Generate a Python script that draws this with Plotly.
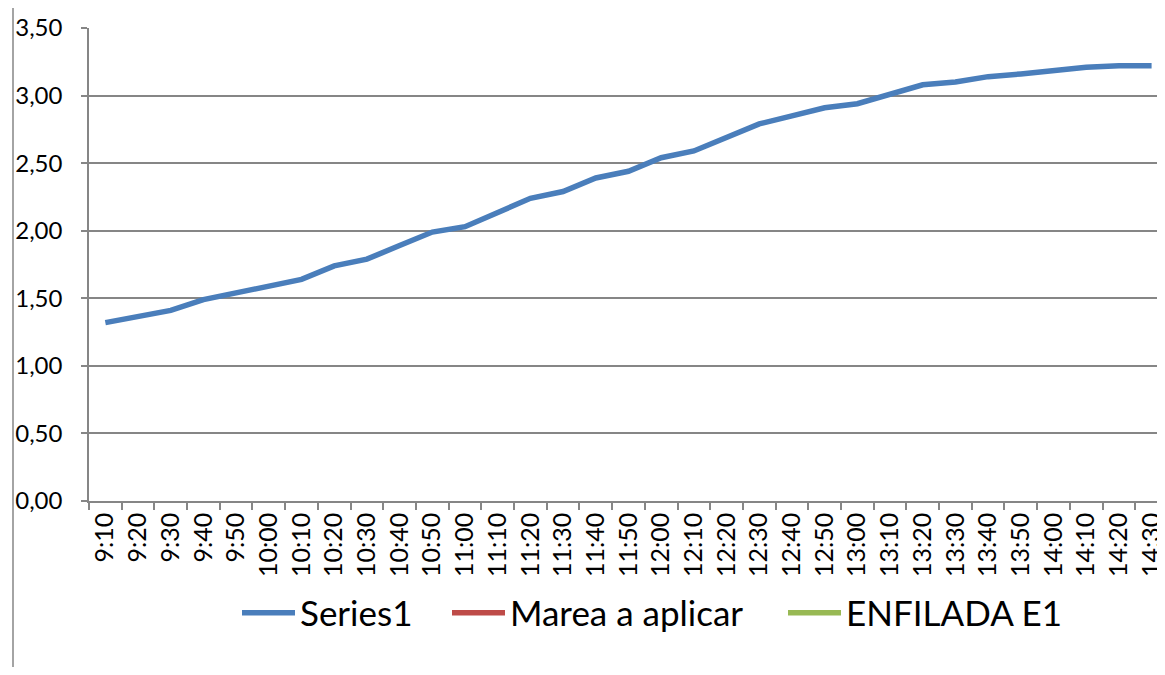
import plotly.graph_objects as go

times = ["9:10", "9:20", "9:30", "9:40", "9:50", "10:00", "10:10", "10:20", "10:30", "10:40",
         "10:50", "11:00", "11:10", "11:20", "11:30", "11:40", "11:50", "12:00", "12:10", "12:20",
         "12:30", "12:40", "12:50", "13:00", "13:10", "13:20", "13:30", "13:40", "13:50", "14:00",
         "14:10", "14:20", "14:30"]
series1 = [1.32, 1.37, 1.41, 1.49, 1.54, 1.59, 1.64, 1.74, 1.79, 1.89,
           1.99, 2.03, 2.14, 2.24, 2.29, 2.39, 2.44, 2.54, 2.59, 2.69,
           2.79, 2.85, 2.91, 2.94, 3.01, 3.08, 3.10, 3.14, 3.16, 3.19,
           3.21, 3.22, 3.22]
marea = [None] * len(times)
enfilada = [None] * len(times)
y_ticks = [0, 0.5, 1.0, 1.5, 2.0, 2.5, 3.0, 3.5]

GRID = "#868686"
FONT = "Lato"

fig = go.Figure()
fig.add_trace(go.Scatter(x=times, y=series1, mode="lines", name="Series1",
                         line=dict(color="#4A7EBB", width=5.5), legend="legend"))
fig.add_trace(go.Scatter(x=times, y=marea, mode="lines", name="Marea a aplicar",
                         line=dict(color="#BE4B48", width=5.5), showlegend=True,
                         legend="legend2"))
fig.add_trace(go.Scatter(x=times, y=enfilada, mode="lines", name="ENFILADA E1",
                         line=dict(color="#98B954", width=5.5), showlegend=True,
                         legend="legend3"))

# page body has an 8px margin; compensate so the chart lands where the reference has it
OFF = 8
W, H = 1165 - OFF, 675 - 2 * OFF
L, T = 89 - OFF, 28 - OFF
B = (H + OFF) - 501
pw = W - L
ph = H - T - B

def px_x(p):
    return (p - OFF - L) / pw

def px_y(p):
    return (501 - p) / ph

def legend_at(xpix):
    return dict(orientation="h", x=px_x(xpix), xanchor="left", y=px_y(613), yanchor="middle",
                font=dict(family=FONT, size=35, color="black"),
                itemwidth=53, bgcolor="rgba(0,0,0,0)")

fig.update_layout(
    width=W, height=H,
    margin=dict(l=L, r=0, t=T, b=B),
    paper_bgcolor="white", plot_bgcolor="white",
    separators=",.",
    font=dict(family=FONT, color="black", size=24),
    showlegend=True,
    legend=legend_at(237),
    legend2=legend_at(447),
    legend3=legend_at(783),
    xaxis=dict(type="category", range=[-0.5, 32.41], showgrid=False,
               showline=True, linecolor=GRID, linewidth=1.5,
               ticks="outside", ticklen=7, tickcolor=GRID, tickwidth=1.5,
               tickson="boundaries", tickangle=-90,
               tickfont=dict(family=FONT, size=25, color="black"),
               fixedrange=True),
    yaxis=dict(range=[0, 3.5], tickvals=y_ticks, tickformat=".2f",
               showgrid=True, gridcolor=GRID, gridwidth=1.5,
               showline=True, linecolor=GRID, linewidth=1.5,
               ticks="outside", ticklen=6, tickcolor=GRID, tickwidth=1.5,
               ticklabelstandoff=14,
               tickfont=dict(family=FONT, size=24, color="black"),
               zeroline=False, fixedrange=True),
    shapes=[
        dict(type="line", xref="paper", yref="paper",
             x0=px_x(13), x1=px_x(13), y0=px_y(6), y1=px_y(700),
             line=dict(color=GRID, width=1.5)),
        dict(type="line", xref="paper", yref="paper",
             x0=px_x(13), x1=px_x(1200), y0=px_y(6), y1=px_y(6),
             line=dict(color=GRID, width=1.5)),
    ],
)

fig.write_html("out.html")
